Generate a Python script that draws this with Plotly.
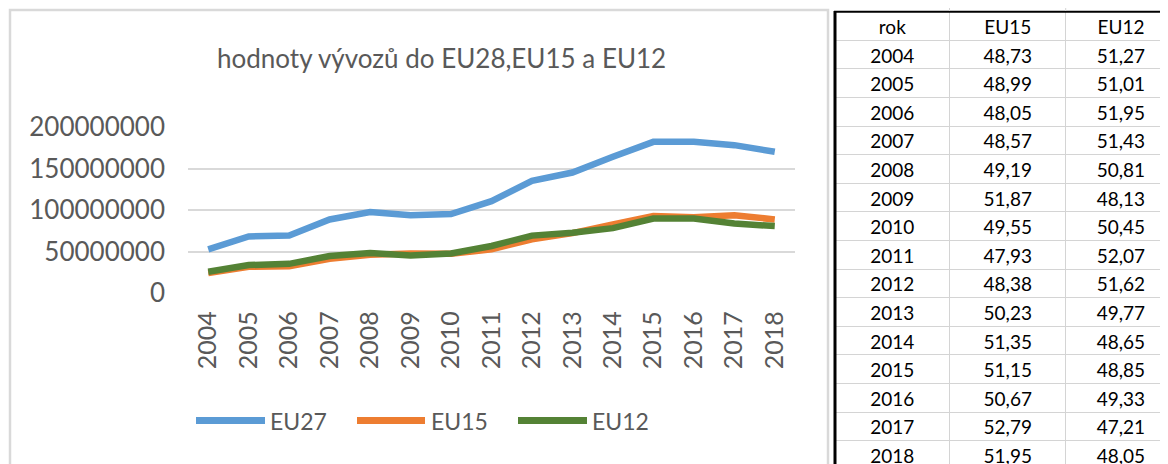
import plotly.graph_objects as go

W, H = 1168, 464
OFF = 8  # page body margin offset applied by the browser

years = ["2004", "2005", "2006", "2007", "2008", "2009", "2010", "2011",
         "2012", "2013", "2014", "2015", "2016", "2017", "2018"]
eu27 = [53e6, 68.5e6, 69.5e6, 89e6, 98e6, 94e6, 95.5e6, 111e6,
        135.5e6, 145.5e6, 164.5e6, 182.5e6, 182.5e6, 178.5e6, 170.5e6]
eu15 = [24.5e6, 32e6, 32.5e6, 41.5e6, 46.5e6, 48e6, 47.5e6, 53e6,
        65e6, 72.5e6, 83e6, 93e6, 91.5e6, 94e6, 89e6]
eu12 = [26e6, 34e6, 35.5e6, 45e6, 48.5e6, 45.5e6, 48e6, 57e6,
        69.5e6, 73e6, 78.5e6, 90e6, 90e6, 84e6, 81e6]
share_eu15 = [48.73, 48.99, 48.05, 48.57, 49.19, 51.87, 49.55, 47.93,
              48.38, 50.23, 51.35, 51.15, 50.67, 52.79, 51.95]
share_eu12 = [51.27, 51.01, 51.95, 51.43, 50.81, 48.13, 50.45, 52.07,
              51.62, 49.77, 48.65, 48.85, 49.33, 47.21, 48.05]
y_ticks = [0, 50000000, 100000000, 150000000, 200000000]
title = "hodnoty vývozů do EU28,EU15 a EU12"
series = [("EU27", eu27, "#5B9BD5"), ("EU15", eu15, "#ED7D31"), ("EU12", eu12, "#548235")]

FONT = "Lato"
GREY = "#595959"


def X(px):
    return (px - OFF) / W


def Y(py):
    return 1 - (py - OFF) / H


fig = go.Figure()
for name, vals, col in series:
    fig.add_trace(go.Scatter(x=years, y=vals, name=name, mode="lines",
                             line=dict(color=col, width=6.5), showlegend=False,
                             hoverinfo="x+y+name"))


def fmt(v):
    return f"{v:.2f}".replace(".", ",")


fig.add_trace(go.Table(
    domain=dict(x=[X(835), X(1176)], y=[0, Y(11.7)]),
    columnwidth=[114.5, 116.2, 110],
    header=dict(values=["rok", "EU15", "EU12"], height=28.6, align="center",
                line=dict(color="#d4d4d4", width=1), fill=dict(color="white"),
                font=dict(family=FONT, size=19, color="black")),
    cells=dict(values=[years, [fmt(v) for v in share_eu15], [fmt(v) for v in share_eu12]],
               height=28.6, align="center",
               line=dict(color="#d4d4d4", width=1), fill=dict(color="white"),
               font=dict(family=FONT, size=19, color="black")),
))

shapes = []
# chart frame
shapes.append(dict(type="rect", xref="paper", yref="paper", x0=X(10), x1=X(828), y0=Y(480), y1=Y(10),
                   line=dict(color="#d9d9d9", width=2.5), fillcolor="rgba(0,0,0,0)", layer="below"))
# table borders
shapes.append(dict(type="line", xref="paper", yref="paper", x0=X(835), x1=X(835), y0=0, y1=Y(11),
                   line=dict(color="black", width=3)))
shapes.append(dict(type="line", xref="paper", yref="paper", x0=X(834), x1=1, y0=Y(11.7), y1=Y(11.7),
                   line=dict(color="black", width=2)))
for xs in (949.5, 1065.7):
    shapes.append(dict(type="line", xref="paper", yref="paper", x0=X(xs), x1=X(xs), y0=Y(11), y1=1,
                       line=dict(color="#d4d4d4", width=1)))

# manual legend (Excel-style long samples)
legend_items = [(196, 265, 268), (357, 425, 429), (518, 587, 590)]
annotations = []
for (x0, x1, tx), (name, vals, col) in zip(legend_items, series):
    shapes.append(dict(type="line", xref="paper", yref="paper", x0=X(x0), x1=X(x1), y0=Y(420.5), y1=Y(420.5),
                       line=dict(color=col, width=7)))
    annotations.append(dict(text=name, xref="paper", yref="paper", x=X(tx), y=Y(421), xanchor="left",
                            yanchor="middle", showarrow=False,
                            font=dict(family=FONT, size=23, color=GREY)))

annotations.append(dict(text=title, xref="paper", yref="paper", x=X(441), y=Y(58), xanchor="center",
                        yanchor="middle", showarrow=False,
                        font=dict(family=FONT, size=26, color=GREY)))

fig.update_layout(
    width=W, height=H, margin=dict(l=0, r=0, t=0, b=0, autoexpand=False),
    paper_bgcolor="white", plot_bgcolor="white", showlegend=False,
    shapes=shapes, annotations=annotations,
    xaxis=dict(domain=[X(188), X(795)], type="category", range=[-0.5, 14.5], automargin=False,
               showgrid=False, zeroline=False, showline=False, tickangle=-90,
               ticks="", ticklabelstandoff=12, tickfont=dict(family=FONT, size=25, color=GREY)),
    yaxis=dict(domain=[Y(293.3), Y(127.3)], range=[0, 200000000], tickvals=y_ticks, automargin=False,
               tickformat="d", showgrid=True, gridcolor="#d9d9d9", gridwidth=2,
               zeroline=False, showline=False, ticks="", ticklabelstandoff=22,
               tickfont=dict(family=FONT, size=26, color=GREY)),
)

fig.write_html("out.html")
